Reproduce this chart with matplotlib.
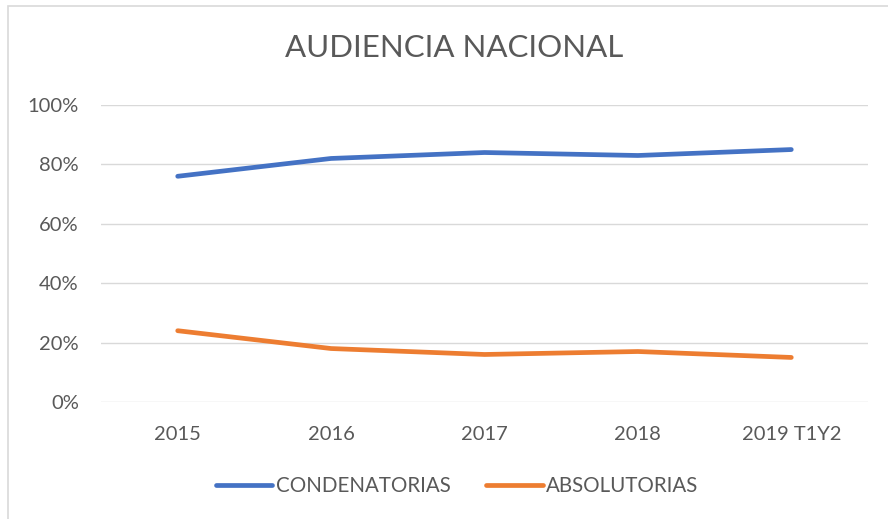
import matplotlib.pyplot as plt
from matplotlib.patches import Rectangle

years = ["2015", "2016", "2017", "2018", "2019 T1Y2"]
condenatorias = [76, 82, 84, 83, 85]
absolutorias = [24, 18, 16, 17, 15]

plt.rcParams['font.family'] = ['Lato', 'DejaVu Sans']
text_color = '#595959'

fig = plt.figure(figsize=(8.88, 5.19), dpi=100)
ax = fig.add_axes([101 / 888, 1 - 402 / 519, 767 / 888, 297 / 519])

x = list(range(len(years)))
ax.plot(x, condenatorias, color='#4472C4', linewidth=3.4, solid_capstyle='round', label='CONDENATORIAS')
ax.plot(x, absolutorias, color='#ED7D31', linewidth=3.4, solid_capstyle='round', label='ABSOLUTORIAS')

ax.set_xlim(-0.5, len(years) - 0.5)
ax.set_ylim(0, 100)
ax.set_yticks(range(0, 101, 20))
ax.set_yticklabels([f"{v}%" for v in range(0, 101, 20)])
ax.set_xticks(x)
ax.set_xticklabels(years)
ax.grid(axis='y', color='#d9d9d9', linewidth=1)
ax.set_axisbelow(True)
for s in ax.spines.values():
    s.set_visible(False)
ax.tick_params(axis='both', length=0, labelsize=14.5, colors=text_color)
ax.tick_params(axis='y', pad=16)
ax.tick_params(axis='x', pad=17)

fig.text(454 / 888, 1 - 48 / 519, "AUDIENCIA NACIONAL", ha='center', va='center',
         fontsize=22.5, color=text_color)

fig.legend(loc='center', bbox_to_anchor=(457 / 888, 1 - 486 / 519), ncol=2, frameon=False,
           fontsize=14.8, labelcolor=text_color, handlelength=2.75, handletextpad=0.15,
           columnspacing=1.75)

fig.patches.append(Rectangle((8 / 888, -0.1), 1.1, 1 - 6 / 519 + 0.1, transform=fig.transFigure,
                             fill=False, edgecolor='#d9d9d9', linewidth=1.2))

plt.savefig('out.png', dpi=100)
